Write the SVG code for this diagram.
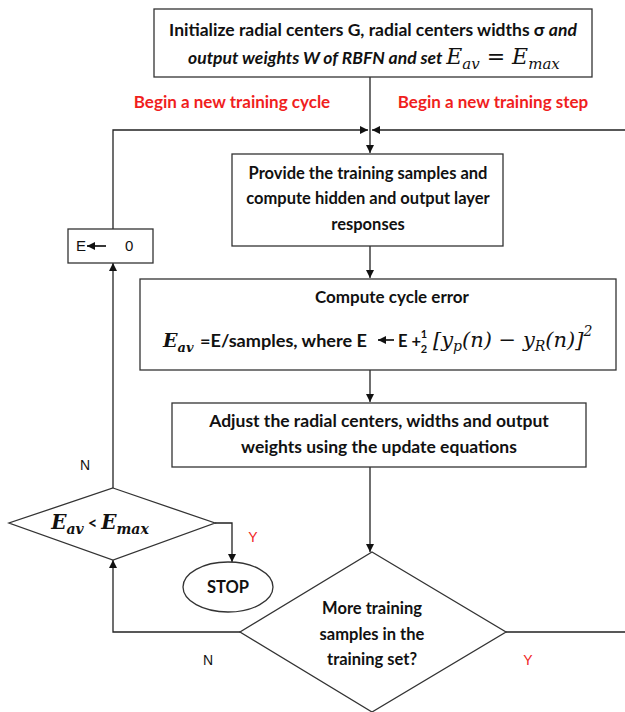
<svg xmlns="http://www.w3.org/2000/svg" width="625" height="712" viewBox="0 0 625 712">
<style>
.box{fill:#fff;stroke:#333;stroke-width:1.3}
.ln{fill:none;stroke:#222;stroke-width:1.3}
.t{font-family:Lato,"Open Sans","Liberation Sans",sans-serif;font-weight:bold;font-size:16.5px;fill:#111}
.big{font-size:17.5px}
.r{font-family:Lato,"Liberation Sans",sans-serif;font-weight:bold;font-size:17px;fill:#f01e1e}
.n{font-family:"Liberation Sans",Arial,sans-serif;font-size:14px;fill:#111}
.ry{font-family:"Liberation Sans",Arial,sans-serif;font-size:14px;fill:#f01e1e}
.m{font-family:"DejaVu Serif","Liberation Serif",serif;font-style:italic;fill:#111}
</style>
<defs>
<marker id="ah" viewBox="0 0 10 10" refX="10" refY="5" markerWidth="8" markerHeight="8" markerUnits="userSpaceOnUse" orient="auto">
<path d="M0,0 L10,5 L0,10 z" fill="#111"/>
</marker>
</defs>
<rect width="625" height="712" fill="#fff"/>
<g id="connectors">
<path class="ln" d="M370,77 V153" marker-end="url(#ah)"/>
<path class="ln" d="M113,229 V130 H368" marker-end="url(#ah)"/>
<path class="ln" d="M506,632 H630 V130 H372" marker-end="url(#ah)"/>
<path class="ln" d="M370,246 V278" marker-end="url(#ah)"/>
<path class="ln" d="M370,370 V402" marker-end="url(#ah)"/>
<path class="ln" d="M370,467 V552" marker-end="url(#ah)"/>
<path class="ln" d="M240,632 H113 V560" marker-end="url(#ah)"/>
<path class="ln" d="M113,488 V263" marker-end="url(#ah)"/>
<path class="ln" d="M215,523 H232 V562" marker-end="url(#ah)"/>
</g>
<g id="labels">
<text class="r" x="232" y="108" text-anchor="middle">Begin a new training cycle</text>
<text class="r" x="493" y="108" text-anchor="middle">Begin a new training step</text>
<text class="n" x="85" y="470" text-anchor="middle">N</text>
<text class="n" x="208" y="665" text-anchor="middle">N</text>
<text class="ry" x="253" y="542" text-anchor="middle">Y</text>
<text class="ry" x="528" y="665" text-anchor="middle">Y</text>
</g>
<g id="init">
<rect class="box" x="154" y="9" width="438" height="68"/>
<text class="t big" x="373" y="36" text-anchor="middle">Initialize radial centers G, radial centers widths σ <tspan font-style="italic">and</tspan></text>
<text x="188" y="64"><tspan class="t big" font-style="italic">output weights W of RBFN and set </tspan><tspan class="m" font-size="22">E</tspan><tspan class="m" font-size="15" dy="5">av</tspan><tspan class="m" font-size="22" dy="-5"> = E</tspan><tspan class="m" font-size="15" dy="5">max</tspan></text>
</g>
<g id="provide">
<rect class="box" x="232" y="154" width="271" height="92"/>
<text class="t" x="368" y="179" text-anchor="middle">Provide the training samples and</text>
<text class="t" x="368" y="204" text-anchor="middle">compute hidden and output layer</text>
<text class="t" x="368" y="230" text-anchor="middle">responses</text>
</g>
<g id="e0">
<rect class="box" x="68" y="229" width="85" height="34"/>
<text class="n" x="76" y="251" style="font-size:15px">E</text>
<path class="ln" d="M106,246 H87" style="stroke-width:1.8" marker-end="url(#ah)"/>
<text class="n" x="125" y="251" style="font-size:15px">0</text>
</g>
<g id="cycle">
<rect class="box" x="140" y="279" width="476" height="91"/>
<text class="t" x="392" y="303" text-anchor="middle" style="font-size:17px">Compute cycle error</text>
<text x="163" y="347"><tspan class="m" font-size="19" font-weight="bold">E</tspan><tspan class="m" font-size="13" font-weight="bold" dy="5">av</tspan></text>
<text class="t" x="200" y="347" textLength="167" lengthAdjust="spacingAndGlyphs">=E/samples, where E</text>
<path class="ln" d="M394,340 H378" style="stroke-width:1.8" marker-end="url(#ah)"/>
<text class="t" x="398" y="347">E +</text>
<text class="t" x="424" y="338" text-anchor="middle" style="font-size:11px">1</text>
<text class="t" x="424" y="353" text-anchor="middle" style="font-size:11px">2</text>
<text x="433" y="347"><tspan class="m" font-size="21">[y</tspan><tspan class="m" font-size="14" dy="4">p</tspan><tspan class="m" font-size="21" dy="-4">(n) − y</tspan><tspan class="m" font-size="14" dy="4">R</tspan><tspan class="m" font-size="21" dy="-4">(n)]</tspan><tspan class="m" font-size="14" dy="-11" font-style="normal">2</tspan></text>
</g>
<g id="adjust">
<rect class="box" x="172" y="403" width="414" height="64"/>
<text class="t big" x="379" y="427" text-anchor="middle">Adjust the radial centers, widths and output</text>
<text class="t big" x="379" y="453" text-anchor="middle">weights using the update equations</text>
</g>
<g id="check">
<polygon class="box" points="113,488 215,523 113,560 9,523"/>
<text x="100" y="529" text-anchor="middle"><tspan class="m" font-size="20" font-weight="bold">E</tspan><tspan class="m" font-size="14" font-weight="bold" dy="5">av</tspan><tspan class="t" dy="-5"> &lt; </tspan><tspan class="m" font-size="20" font-weight="bold">E</tspan><tspan class="m" font-size="14" font-weight="bold" dy="5">max</tspan></text>
</g>
<g id="stop">
<ellipse class="box" cx="228" cy="587" rx="45" ry="25"/>
<text class="t" x="228" y="593" text-anchor="middle">STOP</text>
</g>
<g id="more">
<polygon class="box" points="372,552 506,632 372,712 240,632"/>
<text class="t" x="372" y="614" text-anchor="middle">More training</text>
<text class="t" x="372" y="640" text-anchor="middle">samples in the</text>
<text class="t" x="372" y="665" text-anchor="middle">training set?</text>
</g>
</svg>
